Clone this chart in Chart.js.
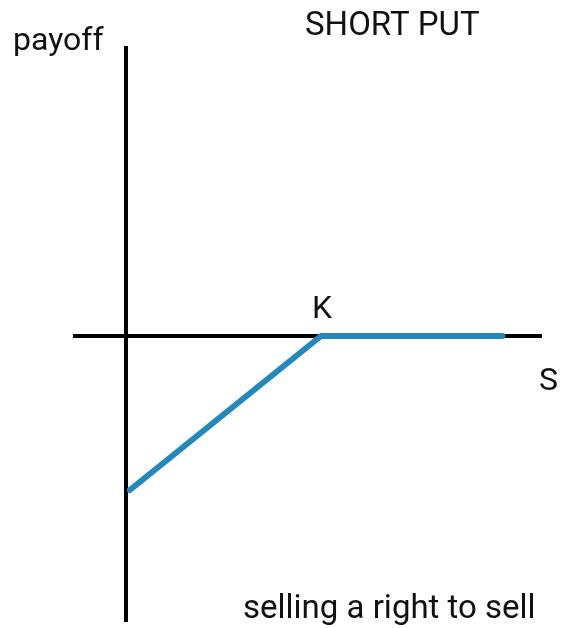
<!DOCTYPE html>
<html>
<head>
<meta charset="utf-8">
<script src="https://cdn.jsdelivr.net/npm/chart.js@4/dist/chart.umd.min.js"></script>
<style>
  html, body { margin: 0; padding: 0; background: #fff; }
  #wrap { width: 571px; height: 628px; position: relative; }
</style>
</head>
<body>
<div id="wrap"><canvas id="c"></canvas></div>
<script>
// Data (underlying price S, payoff of a short put with strike K)
const strike = 100;
const spotPrices = [2, 100, 193];
const payoffValues = [-98, 0, 0];
// Axis line extents (data units)
const sAxisRange = [-27.2, 213.3];
const payoffAxisRange = [-182, 184.5];

const title = "SHORT PUT";
const yLabel = "payoff";
const xLabel = "S";
const strikeLabel = "K";
const caption = "selling a right to sell";

const payoffPts = spotPrices.map((s, i) => ({ x: s, y: payoffValues[i] }));

const textPlugin = {
  id: 'texts',
  afterDatasetsDraw(chart) {
    const { ctx, scales: { x, y } } = chart;
    ctx.save();
    ctx.fillStyle = '#111';
    ctx.textBaseline = 'alphabetic';
    ctx.textAlign = 'left';
    ctx.font = '33px Roboto';
    ctx.fillText(title, 305, 35);
    ctx.fillText(caption, 243, 618);
    ctx.font = '32px Roboto';
    ctx.fillText(yLabel, 13, 50);
    ctx.fillText(strikeLabel, x.getPixelForValue(strike) - 9, y.getPixelForValue(0) - 18);
    ctx.fillText(xLabel, 539, y.getPixelForValue(0) + 54);
    ctx.restore();
  }
};

new Chart(document.getElementById('c'), {
  type: 'scatter',
  data: {
    datasets: [
      {
        data: sAxisRange.map(v => ({ x: v, y: 0 })),
        showLine: true, borderColor: '#000', borderWidth: 4,
        pointRadius: 0, borderCapStyle: 'butt', order: 3
      },
      {
        data: payoffAxisRange.map(v => ({ x: 0, y: v })),
        showLine: true, borderColor: '#000', borderWidth: 4,
        pointRadius: 0, borderCapStyle: 'butt', order: 2
      },
      {
        data: payoffPts,
        showLine: true, borderColor: '#2389bd', borderWidth: 6,
        pointRadius: 0, borderCapStyle: 'round', borderJoinStyle: 'round', order: 1
      }
    ]
  },
  options: {
    responsive: true,
    maintainAspectRatio: false,
    animation: false,
    layout: { padding: 0 },
    plugins: { legend: { display: false }, tooltip: { enabled: false } },
    elements: { line: { tension: 0 } },
    scales: {
      x: { type: 'linear', display: false, min: -64.6, max: 228.2 },
      y: { type: 'linear', display: false, min: -185.8, max: 213.8 }
    }
  },
  plugins: [textPlugin]
});
</script>
</body>
</html>
